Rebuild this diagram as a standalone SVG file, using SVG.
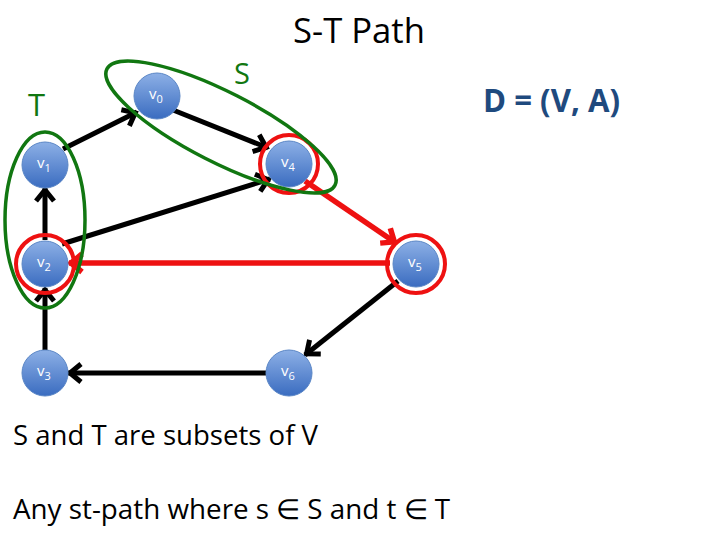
<svg xmlns="http://www.w3.org/2000/svg" width="720" height="540" viewBox="0 0 720 540">
<defs>
<style>
.node{fill:url(#ng);stroke:#5a86c6;stroke-width:1}
.lbl{font-family:"Open Sans","Liberation Sans",sans-serif;font-size:15px;fill:#fff}
.sub{font-size:11px}
.e{stroke:#000;stroke-width:5;fill:none;marker-end:url(#ak)}
.r{stroke:#ee1111;stroke-width:5.5;fill:none;marker-end:url(#ar)}
.ring{fill:none;stroke:#ee1111;stroke-width:4}
.grp{fill:none;stroke:#117711;stroke-width:3.5}
.txt{font-family:"Open Sans","Liberation Sans",sans-serif;fill:#000}
</style>
<linearGradient id="ng" x1="0" y1="0" x2="0" y2="1">
<stop offset="0" stop-color="#8db0e6"/>
<stop offset="1" stop-color="#3a6cc0"/>
</linearGradient>
<marker id="ak" markerUnits="userSpaceOnUse" markerWidth="40" markerHeight="40" viewBox="-20 -20 40 40" refX="0" refY="0" orient="auto" overflow="visible">
<path d="M-13,-9 L-2,0 L-13,9" fill="none" stroke="#000" stroke-width="5"/>
</marker>
<marker id="ar" markerUnits="userSpaceOnUse" markerWidth="40" markerHeight="40" viewBox="-20 -20 40 40" refX="0" refY="0" orient="auto" overflow="visible">
<path d="M-13,-9 L-2,0 L-13,9" fill="none" stroke="#ee1111" stroke-width="5.5"/>
</marker>
</defs>
<rect width="720" height="540" fill="#fff"/>

<text class="txt" x="359" y="43" font-size="34" text-anchor="middle" textLength="132" lengthAdjust="spacingAndGlyphs">S-T Path</text>
<text x="483" y="112" font-family="'Open Sans','Liberation Sans',sans-serif" font-weight="bold" font-size="32" fill="#1f4a7e" textLength="137" lengthAdjust="spacingAndGlyphs">D = (V, A)</text>

<g id="connectors">
<line class="e" x1="63" y1="149" x2="137" y2="112"/>
<line class="e" x1="173" y1="110" x2="268" y2="148"/>
<line class="e" x1="62" y1="244" x2="270" y2="179"/>
<line class="e" x1="45" y1="240" x2="45" y2="188"/>
<line class="e" x1="45" y1="350" x2="45" y2="288"/>
<line class="e" x1="398" y1="281" x2="305" y2="355"/>
<line class="e" x1="266" y1="373" x2="68" y2="373"/>
<line class="r" x1="305" y1="181" x2="396" y2="243"/>
<line class="r" x1="390" y1="263" x2="69" y2="263"/>
</g>

<g id="v0"><circle class="node" cx="157" cy="96" r="23"/><text class="lbl" x="149" y="99">v<tspan class="sub" dy="4">0</tspan></text></g>
<g id="v1"><circle class="node" cx="45" cy="165" r="23"/><text class="lbl" x="37" y="168">v<tspan class="sub" dy="4">1</tspan></text></g>
<g id="v4"><circle class="node" cx="289" cy="164" r="23"/><text class="lbl" x="281" y="167">v<tspan class="sub" dy="4">4</tspan></text><circle class="ring" cx="289" cy="164" r="29"/></g>
<g id="v2"><circle class="node" cx="45" cy="264" r="23"/><text class="lbl" x="37" y="267">v<tspan class="sub" dy="4">2</tspan></text><circle class="ring" cx="45" cy="264" r="29"/></g>
<g id="v5"><circle class="node" cx="416" cy="264" r="23"/><text class="lbl" x="408" y="267">v<tspan class="sub" dy="4">5</tspan></text><circle class="ring" cx="416" cy="264" r="29"/></g>
<g id="v3"><circle class="node" cx="45" cy="373" r="23"/><text class="lbl" x="37" y="376">v<tspan class="sub" dy="4">3</tspan></text></g>
<g id="v6"><circle class="node" cx="289" cy="373" r="23"/><text class="lbl" x="281" y="376">v<tspan class="sub" dy="4">6</tspan></text></g>

<g id="T">
<ellipse class="grp" cx="45" cy="220" rx="40" ry="88"/>
<text x="28" y="116" font-family="'Open Sans','Liberation Sans',sans-serif" font-size="31" fill="#117711">T</text>
</g>
<g id="S">
<ellipse class="grp" cx="221" cy="127" rx="128" ry="35" transform="rotate(27 221 127)"/>
<text x="234" y="84" font-family="'Open Sans','Liberation Sans',sans-serif" font-size="29" fill="#117711">S</text>
</g>

<text class="txt" x="13" y="445" font-size="28" textLength="305" lengthAdjust="spacingAndGlyphs">S and T are subsets of V</text>
<text class="txt" x="13" y="519" font-size="28" textLength="437" lengthAdjust="spacingAndGlyphs">Any st-path where s ∈ S and t ∈ T</text>
</svg>
